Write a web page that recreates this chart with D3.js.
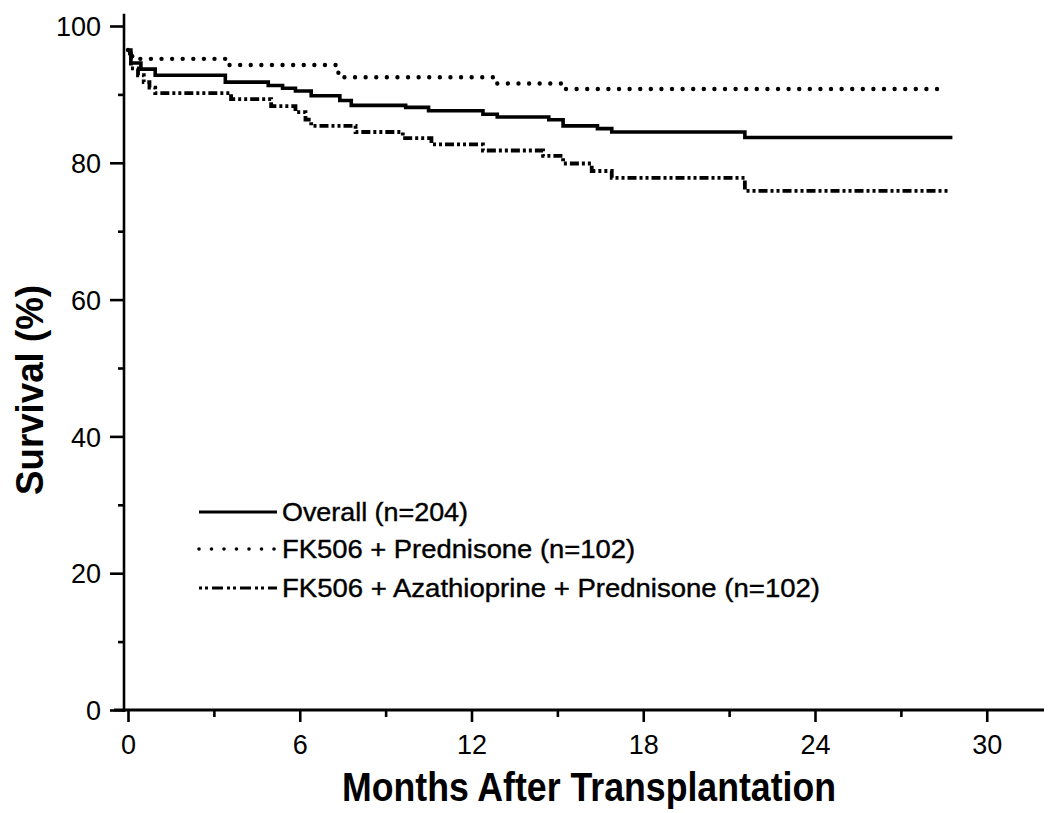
<!DOCTYPE html>
<html>
<head>
<meta charset="utf-8">
<script src="https://cdn.jsdelivr.net/npm/d3@7"></script>
<style>
  html, body { margin: 0; padding: 0; background: #fff; }
  svg { display: block; }
  text { font-family: "Liberation Sans", Arial, Helvetica, sans-serif; fill: #000; }
</style>
</head>
<body>
<svg id="chart" width="1050" height="813"></svg>
<script>
// ---- Data ----
const seriesNames = ["Overall (n=204)", "FK506 + Prednisone (n=102)", "FK506 + Azathioprine + Prednisone (n=102)"];

const overallMonths   = [0, 0.1, 0.45, 0.95, 3.4, 4.9, 5.4, 5.85, 6.4, 7.4, 7.8, 9.7, 10.5, 12.4, 12.9, 14.7, 15.2, 16.4, 16.9, 21.55, 28.8];
const overallSurvival = [96.5, 94.6, 93.7, 92.8, 91.8, 91.3, 90.9, 90.5, 89.8, 89.1, 88.4, 88.1, 87.6, 87.1, 86.7, 86.3, 85.4, 85.0, 84.5, 83.7, 83.7];

const fkpMonths   = [0, 0.15, 3.4, 7.35, 12.8, 15.2, 28.6];
const fkpSurvival = [96.5, 95.2, 94.3, 92.5, 91.6, 90.8, 90.8];

const fkapMonths   = [0, 0.1, 0.35, 0.55, 0.75, 0.95, 3.6, 5.0, 5.85, 6.2, 6.4, 7.95, 9.6, 10.6, 12.4, 14.5, 15.2, 16.2, 16.9, 21.55, 28.7];
const fkapSurvival = [96.0, 93.8, 92.8, 91.8, 91.0, 90.2, 89.3, 88.3, 87.4, 86.3, 85.4, 84.5, 83.6, 82.7, 81.8, 81.0, 79.9, 78.8, 77.8, 75.9, 75.9];

const xMajorTicks = [0, 6, 12, 18, 24, 30];
const xMinorTicks = [3, 9, 15, 21, 27];
const yMajorTicks = [0, 20, 40, 60, 80, 100];
const yMinorTicks = [10, 30, 50, 70, 90];

const xTitle = "Months After Transplantation";
const yTitle = "Survival (%)";

// ---- Drawing ----
const svg = d3.select("#chart");
const x = d3.scaleLinear().domain([0, 32]).range([128, 1044]);
const y = d3.scaleLinear().domain([0, 100]).range([710, 26]);

// axes lines
svg.append("line").attr("x1", x(0) - 4).attr("x2", x(0) - 4)
  .attr("y1", y(101.8)).attr("y2", y(0) + 2)
  .attr("stroke", "#000").attr("stroke-width", 2.6);
svg.append("line").attr("x1", x(0) - 14).attr("x2", x(32))
  .attr("y1", y(0)).attr("y2", y(0))
  .attr("stroke", "#000").attr("stroke-width", 3.2);

// y axis ticks
const yAxisMajor = d3.axisLeft(y).tickValues(yMajorTicks).tickSize(14).tickPadding(9).tickFormat(d3.format("d"));
const gy = svg.append("g").attr("transform", `translate(${x(0) - 4},0)`).call(yAxisMajor);
gy.select(".domain").remove();
gy.selectAll(".tick line").attr("stroke", "#000").attr("stroke-width", 2.6);
gy.selectAll(".tick text").style("font-size", "27px").attr("dy", "0.36em");

const yAxisMinor = d3.axisLeft(y).tickValues(yMinorTicks).tickSize(6).tickFormat("");
const gy2 = svg.append("g").attr("transform", `translate(${x(0) - 4},0)`).call(yAxisMinor);
gy2.select(".domain").remove();
gy2.selectAll(".tick line").attr("stroke", "#000").attr("stroke-width", 2.6);

// x axis ticks
const xAxisMajor = d3.axisBottom(x).tickValues(xMajorTicks).tickSize(12).tickPadding(8).tickFormat(d3.format("d"));
const gx = svg.append("g").attr("transform", `translate(0,${y(0)})`).call(xAxisMajor);
gx.select(".domain").remove();
gx.selectAll(".tick line").attr("stroke", "#000").attr("stroke-width", 2.6);
gx.selectAll(".tick text").style("font-size", "27px").attr("dy", "0.9em");

const xAxisMinor = d3.axisBottom(x).tickValues(xMinorTicks).tickSize(7).tickFormat("");
const gx2 = svg.append("g").attr("transform", `translate(0,${y(0)})`).call(xAxisMinor);
gx2.select(".domain").remove();
gx2.selectAll(".tick line").attr("stroke", "#000").attr("stroke-width", 2.6);

// titles
svg.append("text").attr("x", 589).attr("y", 801)
  .attr("text-anchor", "middle")
  .attr("textLength", 494).attr("lengthAdjust", "spacingAndGlyphs")
  .style("font-size", "41px").style("font-weight", "bold")
  .text(xTitle);

svg.append("text")
  .attr("transform", "translate(43,390) rotate(-90)")
  .attr("text-anchor", "middle")
  .attr("textLength", 210).attr("lengthAdjust", "spacingAndGlyphs")
  .style("font-size", "38px").style("font-weight", "bold")
  .text(yTitle);

// series
const styles = [
  { width: 3.6, dash: null, cap: "butt" },
  { width: 4.4, dash: "0,10.6", cap: "round" },
  { width: 3.8, dash: "9,3,3,3,3,3", cap: "butt" }
];
const seriesData = [
  d3.zip(overallMonths, overallSurvival),
  d3.zip(fkpMonths, fkpSurvival),
  d3.zip(fkapMonths, fkapSurvival)
];

const line = d3.line().x(d => x(d[0])).y(d => y(d[1])).curve(d3.curveStepAfter);

seriesData.forEach((data, i) => {
  const s = styles[i];
  const p = svg.append("path").datum(data)
    .attr("d", line)
    .attr("fill", "none").attr("stroke", "#000")
    .attr("stroke-width", s.width)
    .attr("stroke-linecap", s.cap)
    .attr("stroke-linejoin", "miter");
  if (s.dash) p.attr("stroke-dasharray", s.dash);
});

// legend
const legendY = [512, 549, 588];
const legendTextWidths = [186, 353, 538];
seriesNames.forEach((name, i) => {
  const s = styles[i];
  const l = svg.append("line")
    .attr("x1", 199).attr("x2", 277)
    .attr("y1", legendY[i]).attr("y2", legendY[i])
    .attr("stroke", "#000").attr("stroke-width", s.width - 0.8)
    .attr("stroke-linecap", s.cap);
  if (s.dash) l.attr("stroke-dasharray", i === 1 ? "0,12.5" : "3,3,3,4,11,4");
  svg.append("text")
    .attr("x", 282).attr("y", legendY[i])
    .attr("dy", "0.36em")
    .attr("textLength", legendTextWidths[i]).attr("lengthAdjust", "spacingAndGlyphs")
    .style("font-size", "26px")
    .style("stroke", "#000").style("stroke-width", 0.4)
    .text(name);
});
</script>
</body>
</html>
